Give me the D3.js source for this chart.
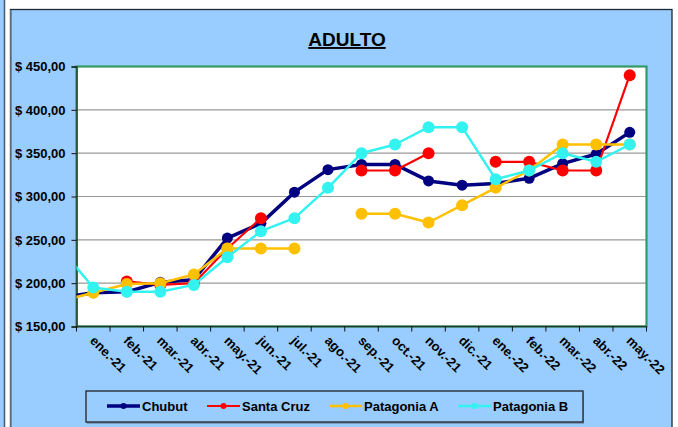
<!DOCTYPE html>
<html>
<head>
<meta charset="utf-8">
<script src="https://cdn.jsdelivr.net/npm/d3@7"></script>
<style>
  body { margin: 0; background: #fff; }
  svg { display: block; font-family: "Liberation Sans", Arial, sans-serif; }
</style>
</head>
<body>
<div id="chart"></div>
<script>
const w = 678;
const h = 427;

// months, first one (dic.-20) sits just outside the plot and is clipped
const months = ['dic.-20', 'ene.-21', 'feb.-21', 'mar.-21', 'abr.-21', 'may.-21', 'jun.-21', 'jul.-21', 'ago.-21',
  'sep.-21', 'oct.-21', 'nov.-21', 'dic.-21', 'ene.-22', 'feb.-22', 'mar.-22', 'abr.-22', 'may.-22'];

const chubut      = [183, 189, 190, 201, 204, 252, 269, 305, 331, 337, 337, 318, 313, 315, 321, 338, 349, 374];
const santaCruz   = [null, null, 202, 198, 200, 240, 275, null, null, 330, 330, 350, null, 340, 340, 330, 330, 440];
const patagoniaA  = [179, 189, 199, 200, 210, 240, 240, 240, null, 280, 280, 270, 290, 310, 330, 360, 360, 360];
const patagoniaB  = [241, 195, 190, 190, 198, 230, 260, 275, 310, 350, 360, 380, 380, 320, 330, 350, 340, 360];

const yTicks = [150, 200, 250, 300, 350, 400, 450];

const series = [
  { name: 'Chubut', values: chubut, color: '#000080', width: 3.5, r: 5.5 },
  { name: 'Santa Cruz', values: santaCruz, color: '#ff0000', width: 2.2, r: 6 },
  { name: 'Patagonia A', values: patagoniaA, color: '#ffc000', width: 2.5, r: 6 },
  { name: 'Patagonia B', values: patagoniaB, color: '#33f3f0', width: 2.5, r: 6 }
];

const pLeft = 76.5, pRight = 646.5, pTop = 66.5, pBottom = 326.5;

const shown = months.slice(1);
const xScale = d3.scaleBand().domain(shown).range([pLeft, pRight]).padding(0);
const step = xScale.bandwidth();
const xPos = i => (i === 0 ? pLeft - step / 2 : xScale(months[i]) + step / 2);

const yScale = d3.scaleLinear().domain([150, 450]).range([pBottom, pTop]);

const svg = d3.select('#chart').append('svg').attr('width', w).attr('height', h);

// outer frame
svg.append('rect').attr('x', 0).attr('y', 0).attr('width', 4).attr('height', h).attr('fill', '#99ccff');
svg.append('line').attr('x1', 4.5).attr('x2', 4.5).attr('y1', 0).attr('y2', h).attr('stroke', '#4a5a6a').attr('stroke-width', 1.5);
svg.append('rect').attr('x', 10.5).attr('y', 9.5).attr('width', 661.5).attr('height', h)
  .attr('fill', '#99ccff').attr('stroke', '#1c2a38').attr('stroke-width', 1.3);
svg.append('line').attr('x1', 11).attr('x2', 11).attr('y1', 10).attr('y2', h).attr('stroke', '#6a7f95').attr('stroke-width', 1.5);

// title
svg.append('text').attr('x', 347).attr('y', 46).attr('text-anchor', 'middle')
  .attr('font-size', 19).attr('font-weight', 'bold').attr('text-decoration', 'underline')
  .text('ADULTO');

// plot area
svg.append('rect').attr('x', pLeft).attr('y', pTop).attr('width', pRight - pLeft).attr('height', pBottom - pTop)
  .attr('fill', '#fff');

svg.append('g').selectAll('line').data(yTicks.slice(1, -1)).enter().append('line')
  .attr('x1', pLeft).attr('x2', pRight)
  .attr('y1', d => yScale(d)).attr('y2', d => yScale(d))
  .attr('stroke', '#999').attr('stroke-width', 1.2);

svg.append('rect').attr('x', pLeft).attr('y', pTop).attr('width', pRight - pLeft).attr('height', pBottom - pTop)
  .attr('fill', 'none').attr('stroke', '#339966').attr('stroke-width', 2.2);

// y axis
const yAxis = d3.axisLeft(yScale).tickValues(yTicks).tickSize(5).tickPadding(6)
  .tickFormat(d => '$ ' + d3.format('.2f')(d).replace('.', ','));
const gy = svg.append('g').attr('transform', 'translate(' + pLeft + ',0)').call(yAxis);
gy.select('.domain').attr('stroke', '#1d4a2e').attr('stroke-width', 1.5);
gy.selectAll('.tick line').attr('stroke', '#111');
gy.selectAll('text').attr('font-size', 13).attr('font-weight', 'bold').attr('fill', '#000')
  .attr('font-family', '"Liberation Sans", Arial, sans-serif');

// x axis
const gx = svg.append('g').attr('transform', 'translate(0,' + pBottom + ')');
gx.append('line').attr('x1', pLeft).attr('x2', pRight).attr('stroke', '#1d3a2a').attr('stroke-width', 1.5);
gx.selectAll('.tk').data(shown.concat(['end'])).enter().append('line')
  .attr('x1', (d, i) => pLeft + i * step).attr('x2', (d, i) => pLeft + i * step)
  .attr('y1', 0).attr('y2', 5).attr('stroke', '#111');
gx.selectAll('text').data(shown).enter().append('text')
  .attr('transform', d => 'translate(' + (xScale(d) + step / 2 - 4) + ',15) rotate(45)')
  .attr('font-size', 13).attr('font-weight', 'bold')
  .text(d => d);

// lines
svg.append('clipPath').attr('id', 'clip').append('rect')
  .attr('x', pLeft).attr('y', pTop - 10).attr('width', pRight - pLeft + 10).attr('height', pBottom - pTop + 20);

const plot = svg.append('g').attr('clip-path', 'url(#clip)');

const line = d3.line()
  .defined(d => d != null)
  .x((d, i) => xPos(i))
  .y(d => yScale(d));

series.forEach(s => {
  const g = plot.append('g');
  g.append('path').datum(s.values)
    .attr('d', line)
    .attr('fill', 'none')
    .attr('stroke', s.color)
    .attr('stroke-width', s.width)
    .attr('stroke-linejoin', 'round');
  g.selectAll('circle').data(s.values.map((v, i) => [i, v]).filter(d => d[1] != null && d[0] > 0))
    .enter().append('circle')
    .attr('cx', d => xPos(d[0]))
    .attr('cy', d => yScale(d[1]))
    .attr('r', s.r)
    .attr('fill', s.color);
});

// legend
svg.append('rect').attr('x', 87).attr('y', 393).attr('width', 497).attr('height', 31).attr('fill', '#7a9cc0');
svg.append('rect').attr('x', 86).attr('y', 391).attr('width', 497).attr('height', 31)
  .attr('fill', '#99ccff').attr('stroke', '#222').attr('stroke-width', 1.3);

const legX = [107, 207, 329, 458];
series.forEach((s, i) => {
  const g = svg.append('g').attr('transform', 'translate(' + legX[i] + ',406)');
  g.append('line').attr('x1', 0).attr('x2', 33).attr('stroke', s.color).attr('stroke-width', s.width);
  g.append('circle').attr('cx', 16.5).attr('r', 3).attr('fill', s.color);
  g.append('text').attr('x', 35).attr('y', 5).attr('font-size', 13).attr('font-weight', 'bold').text(s.name);
});
</script>
</body>
</html>
